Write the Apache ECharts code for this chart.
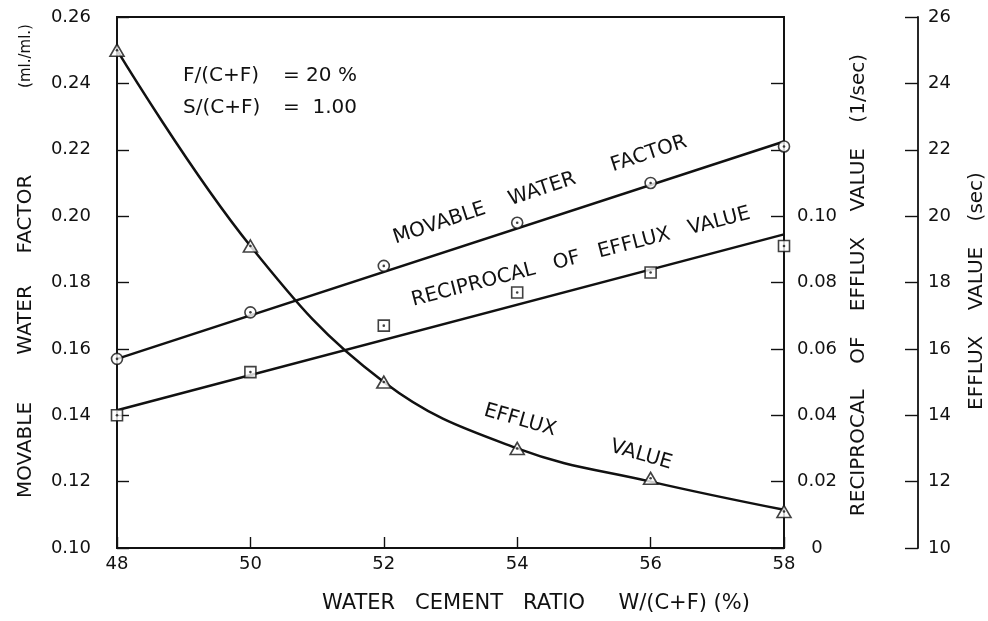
<!DOCTYPE html>
<html>
<head>
<meta charset="utf-8">
<title>Movable water factor and efflux value vs water cement ratio</title>
<script src="https://cdn.jsdelivr.net/npm/echarts@6/dist/echarts.min.js"></script>
<style>
  html, body { margin: 0; padding: 0; background: #fff; }
  #chart { width: 988px; height: 621px; }
</style>
</head>
<body>
<div id="chart"></div>
<script>
// Water cement ratio W/(C+F) in %
const waterCementRatio = [48, 50, 52, 54, 56, 58];

// Measured movable water factor (ml./ml.) and its fitted straight line
const movableWaterFactor = [0.157, 0.171, 0.185, 0.198, 0.210, 0.221];
const movableFitX = [48, 58];
const movableFitY = [0.157, 0.2225];

// Measured reciprocal of efflux value (1/sec) and its fitted straight line
const reciprocalEfflux = [0.040, 0.053, 0.067, 0.077, 0.083, 0.091];
const reciprocalFitX = [48, 58];
const reciprocalFitY = [0.0415, 0.0945];

// Measured efflux value (sec) and the smooth curve drawn through it
const effluxValue = [25.0, 19.1, 15.0, 13.0, 12.1, 11.1];
const effluxCurve = [25.0, 19.1, 15.0, 13.0, 12.0, 11.15];

// Axis ranges: [min, max, step]
const xRange = [48, 58, 2];
const movableRange = [0.10, 0.26, 0.02];
const reciprocalRange = [0, 0.16, 0.02];
const reciprocalLabelMax = 0.10;
const effluxRange = [10, 26, 2];

const FONT = 'DejaVu Sans';
const INK = '#111';

const pairs = (xs, ys) => xs.map((x, i) => [x, ys[i]]);

const chart = echarts.init(document.getElementById('chart'), null, { renderer: 'canvas' });

const axisLine = { show: true, lineStyle: { color: INK, width: 1.8 } };
const tickStyle = { color: INK, width: 1.4 };
const tickFont = { color: INK, fontFamily: FONT, fontSize: 18 };

const hollow = { color: '#fff', borderColor: INK, borderWidth: 1.6 };
const dot = { color: INK };

function markerSeries(name, data, yAxisIndex, symbol, size) {
  return [
    {
      name: name, type: 'scatter', yAxisIndex: yAxisIndex, data: data,
      symbol: symbol, symbolSize: size, itemStyle: hollow, z: 5, silent: true
    },
    {
      name: name + ' centre', type: 'scatter', yAxisIndex: yAxisIndex, data: data,
      symbol: 'circle', symbolSize: 2.6, itemStyle: dot, z: 6, silent: true
    }
  ];
}

function lineSeries(name, data, yAxisIndex, smooth) {
  return {
    name: name, type: 'line', yAxisIndex: yAxisIndex, data: data,
    showSymbol: false, symbol: 'none', smooth: smooth,
    lineStyle: { color: INK, width: 2.5 }, z: 3, silent: true
  };
}

// free text; align defaults to centre
function text(str, x, y, size, rotDeg, align) {
  return {
    type: 'text', x: x, y: y, rotation: (rotDeg || 0) * Math.PI / 180, silent: true,
    style: {
      text: str, fill: INK, font: size + 'px "' + FONT + '"',
      align: align || 'center', verticalAlign: 'middle'
    }
  };
}

chart.setOption({
  animation: false,
  backgroundColor: '#fff',
  grid: {
    left: 117, right: 204, top: 17, bottom: 73,
    show: true, borderColor: INK, borderWidth: 1.8, backgroundColor: 'transparent'
  },
  xAxis: {
    type: 'value', min: xRange[0], max: xRange[1], interval: xRange[2],
    axisLine: axisLine,
    axisTick: { show: true, inside: true, length: 11, lineStyle: tickStyle },
    splitLine: { show: false },
    axisLabel: Object.assign({ margin: 7 }, tickFont)
  },
  yAxis: [
    {
      type: 'value', position: 'left',
      min: movableRange[0], max: movableRange[1], interval: movableRange[2],
      axisLine: axisLine,
      axisTick: { show: true, inside: true, length: 12, lineStyle: tickStyle },
      splitLine: { show: false },
      axisLabel: Object.assign({ margin: 26, formatter: v => v.toFixed(2) }, tickFont)
    },
    {
      type: 'value', position: 'right',
      min: reciprocalRange[0], max: reciprocalRange[1], interval: reciprocalRange[2],
      axisLine: axisLine,
      axisTick: { show: true, inside: true, length: 13, lineStyle: tickStyle },
      splitLine: { show: false },
      axisLabel: Object.assign({
        margin: 33, align: 'center', showMaxLabel: false,
        formatter: v => (v > reciprocalLabelMax + 1e-9) ? '' : (v === 0 ? '0' : v.toFixed(2))
      }, tickFont)
    },
    {
      type: 'value', position: 'right', offset: 134,
      min: effluxRange[0], max: effluxRange[1], interval: effluxRange[2],
      axisLine: axisLine,
      axisTick: { show: true, inside: true, length: 13, lineStyle: tickStyle },
      splitLine: { show: false },
      axisLabel: Object.assign({ margin: 10 }, tickFont)
    }
  ],
  series: [
    lineSeries('Movable water factor fit', pairs(movableFitX, movableFitY), 0, false),
    ...markerSeries('Movable water factor', pairs(waterCementRatio, movableWaterFactor), 0, 'circle', 11),
    lineSeries('Reciprocal of efflux value fit', pairs(reciprocalFitX, reciprocalFitY), 1, false),
    ...markerSeries('Reciprocal of efflux value', pairs(waterCementRatio, reciprocalEfflux), 1, 'rect', 11),
    lineSeries('Efflux value curve', pairs(waterCementRatio, effluxCurve), 2, 0.4),
    ...markerSeries('Efflux value', pairs(waterCementRatio, effluxValue), 2, 'triangle', [14, 12])
  ],
  graphic: [
    // bottom axis title
    text('WATER   CEMENT   RATIO     W/(C+F) (%)', 536, 604, 21),
    // left axis title, word by word
    text('MOVABLE', 26, 450, 20, 90),
    text('WATER', 26, 320, 20, 90),
    text('FACTOR', 26, 214, 20, 90),
    text('(ml./ml.)', 26, 56, 15, 90),
    // right axis titles
    text('RECIPROCAL    OF    EFFLUX    VALUE    (1/sec)', 859, 285, 20, 90),
    text('EFFLUX    VALUE    (sec)', 977, 291, 20, 90),
    // mix proportions
    text('F/(C+F)', 183, 76, 20, 0, 'left'),
    text('= 20 %', 283, 76, 20, 0, 'left'),
    text('S/(C+F)', 183, 108, 20, 0, 'left'),
    text('=  1.00', 283, 108, 20, 0, 'left'),
    // curve labels
    text('MOVABLE    WATER      FACTOR', 540, 190, 20, 18.4),
    text('RECIPROCAL   OF   EFFLUX   VALUE', 581, 257, 20, 14.5),
    text('EFFLUX         VALUE', 578, 437, 20, -16)
  ]
});
</script>
</body>
</html>
